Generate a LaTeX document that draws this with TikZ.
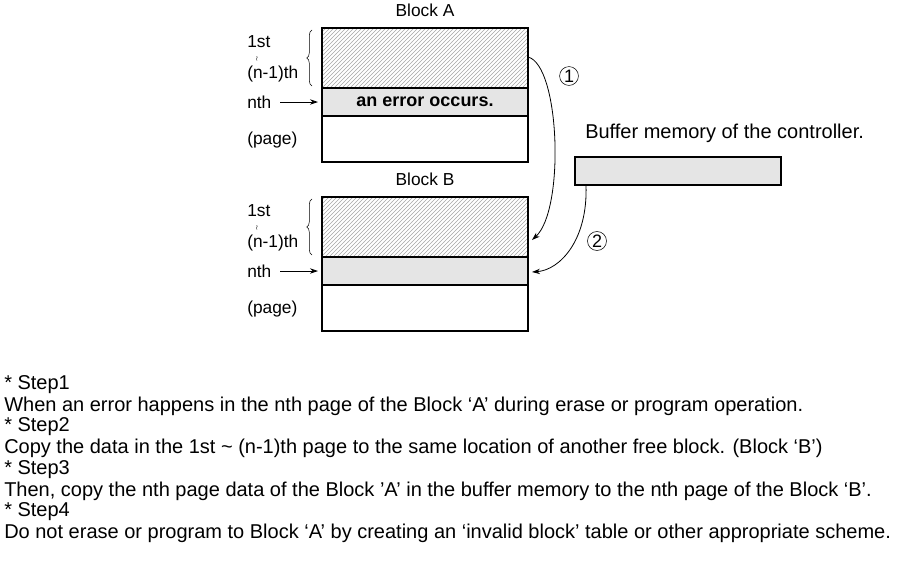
\documentclass[tikz,border=0pt]{standalone}
\usepackage{fontspec}
\setmainfont{Liberation Sans}
\usetikzlibrary{patterns,decorations.pathreplacing,arrows.meta}
\begin{document}
\begin{tikzpicture}[x=0.75pt,y=-0.75pt,
  txt/.style={font=\fontsize{13}{15}\selectfont},
  low/.style={font=\fontsize{15}{17}\selectfont,anchor=west,inner sep=0},
  box/.style={draw,line width=1pt},
  hatch/.style={box,pattern=north east lines,pattern color=gray!70},
  arr/.style={-{Stealth[length=6pt,width=4pt]},line width=0.6pt},
  circ/.style={draw,circle,inner sep=0.8pt,font=\fontsize{13.5}{15}\selectfont}]
\useasboundingbox (0,0) rectangle (905,582);
\foreach \n/\dy in {A/0,B/169}{
  \node[txt] (t\n) at (425,{10+\dy}) {Block \n};
  \draw[hatch] (322,{28+\dy}) rectangle (528,{88+\dy});
  \coordinate (h\n) at (528,{57+\dy});
  \draw[box] (322,{116+\dy}) rectangle (528,{162+\dy});
  \node[txt,anchor=west,inner sep=0] (s\n) at (247,{42+\dy}) {1st};
  \node[anchor=center,inner sep=0] (w\n) at (257,{59+\dy}) {\tiny$\wr$};
  \node[txt,anchor=west,inner sep=0] (m\n) at (247,{74+\dy}) {(n-1)th};
  \node[txt,anchor=west,inner sep=0] (n\n) at (247,{102+\dy}) {nth};
  \node[txt,anchor=west,inner sep=0] (p\n) at (247,{140+\dy}) {(page)};
  \coordinate (e\n) at (318,{102+\dy});
  \draw[arr] (280,{102+\dy}) -- (e\n);
  \draw[decorate,decoration={brace,amplitude=4pt}] (312,{86+\dy}) -- (312,{30+\dy});
}
\draw[box,fill=gray!20] (322,88) rectangle (528,116);
\node[font=\fontsize{13.5}{15}\selectfont\bfseries] (err) at (425,102) {an error occurs.};
\draw[box,fill=gray!20] (322,257) rectangle (528,285);
\node[anchor=west,inner sep=0,font=\fontsize{15}{17}\selectfont] (bt) at (585,133) {Buffer memory of the controller.};
\draw[box,fill=gray!20,line width=0.8pt] (575,157) rectangle (781,185);
\coordinate (bf) at (586,185);
\draw[arr] (hA) .. controls (560,65) and (565,210) .. (532,240);
\draw[arr] (bf) .. controls (588,240) and (560,270) .. (532,272);
\node[circ] (c1) at (569,76) {1};
\node[circ] (c2) at (597,241) {2};
\foreach \t/\y in {{* Step1}/385,
 {When an error happens in the nth page of the Block `A' during erase or program operation.}/406,
 {* Step2}/427,
 {Copy the data in the 1st \char"007E\ (n-1)th page to the same location of another free block. (Block `B')}/448,
 {* Step3}/470,
 {Then, copy the nth page data of the Block 'A' in the buffer memory to the nth page of the Block `B'.}/491,
 {* Step4}/512,
 {Do not erase or program to Block `A' by creating an `invalid block' table or other appropriate scheme.}/533}
  \node[low] at (4,\y) {\t};
\end{tikzpicture}
\end{document}
